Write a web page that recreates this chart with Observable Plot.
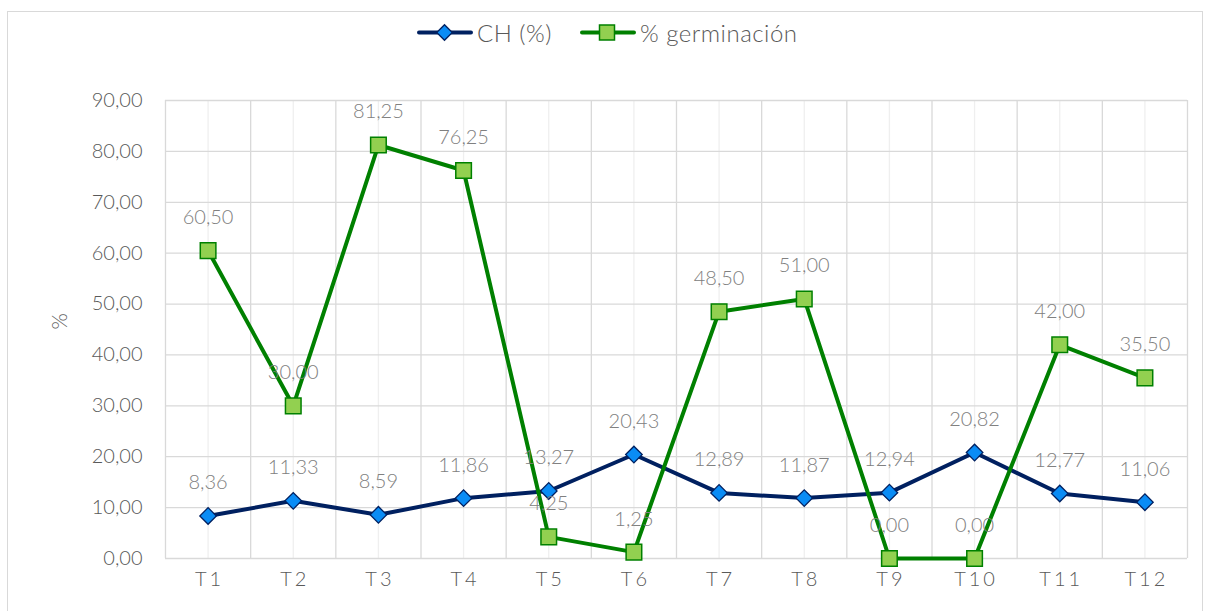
<!DOCTYPE html>
<html>
<head>
<meta charset="utf-8">
<script src="https://cdn.jsdelivr.net/npm/d3@7"></script>
<script src="https://cdn.jsdelivr.net/npm/@observablehq/plot@0.6"></script>
<style>
  body { margin: 0; background: #fff; font-family: Lato, "Noto Sans", sans-serif; }
  #frame { position: absolute; left: 7px; top: 11px; width: 1196px; height: 640px; border: 1px solid #d9d9d9; box-sizing: border-box; overflow: hidden; }
  #legend { position: absolute; top: 6px; left: 409px; display: flex; align-items: center; font-size: 24px; letter-spacing: 0.5px; font-weight: 300; color: #595959; white-space: nowrap; }
  #legend .item { display: flex; align-items: center; margin-right: 28px; }
  #legend svg { margin-right: 4px; }
  #chart { position: absolute; left: 0; top: 39px; }
  #chart svg text { font-weight: 300; }
</style>
</head>
<body>
<div id="frame">
  <div id="legend"></div>
  <div id="chart"></div>
</div>
<script>
const categories = ["T1","T2","T3","T4","T5","T6","T7","T8","T9","T10","T11","T12"];
const chValues = [8.36, 11.33, 8.59, 11.86, 13.27, 20.43, 12.89, 11.87, 12.94, 20.82, 12.77, 11.06];
const germValues = [60.50, 30.00, 81.25, 76.25, 4.25, 1.25, 48.50, 51.00, 0.00, 0.00, 42.00, 35.50];
const yTicks = [0, 10, 20, 30, 40, 50, 60, 70, 80, 90];
const seriesNames = ["CH (%)", "% germinación"];

const navy = "#002060", blueFill = "#0a8cf5";
const green = "#008000", greenFill = "#92d050";
const fmt = v => v.toFixed(2).replace(".", ",");

const idx = categories.map((c, i) => i + 1);
const ch = categories.map((c, i) => ({i: i + 1, v: chValues[i]}));
const germ = categories.map((c, i) => ({i: i + 1, v: germValues[i]}));
const bounds = d3.range(0, categories.length + 1).map(k => k + 0.5);

// Legend
const legend = document.getElementById("legend");
[[seriesNames[0], "diamond"], [seriesNames[1], "square"]].forEach(([name, sym]) => {
  const item = document.createElement("div");
  item.className = "item";
  const col = sym === "diamond" ? navy : green;
  const fill = sym === "diamond" ? blueFill : greenFill;
  const marker = sym === "diamond"
    ? `<rect x="22" y="6" width="11" height="11" transform="rotate(45 27.5 11.5)" fill="${fill}" stroke="${col}" stroke-width="1.3"/>`
    : `<rect x="19.5" y="4" width="15" height="15" fill="${fill}" stroke="${col}" stroke-width="1.5"/>`;
  item.innerHTML = `<svg width="56" height="23"><line x1="2" x2="54" y1="11.5" y2="11.5" stroke="${col}" stroke-width="4" stroke-linecap="round"/>${marker}</svg><span>${name}</span>`;
  legend.appendChild(item);
});

const chart = Plot.plot({
  width: 1194,
  height: 560,
  marginTop: 49,
  marginBottom: 53,
  marginLeft: 157,
  marginRight: 15,
  style: {fontFamily: "Lato, 'Noto Sans', sans-serif", background: "transparent"},
  x: {type: "linear", domain: [0.5, categories.length + 0.5]},
  y: {type: "linear", domain: [0, 90]},
  marks: [
    Plot.ruleX(idx, {y1: 0, y2: 90, stroke: "#efefef", strokeWidth: 1.3}),
    Plot.ruleY(yTicks, {stroke: "#d9d9d9", strokeWidth: 1.3}),
    Plot.ruleX(bounds, {y1: 0, y2: 90, stroke: "#d9d9d9", strokeWidth: 1.3}),
    Plot.axisY({ticks: yTicks, tickFormat: fmt, tickSize: 0, tickPadding: 23, fontSize: 20, fill: "#595959", label: null}),
    Plot.axisX({ticks: idx, tickFormat: i => categories[i - 1], tickSize: 0, tickPadding: 13, fontSize: 20, fill: "#595959", label: null}),
    Plot.text(["%"], {frameAnchor: "left", text: d => d, rotate: -90, dx: -105, fontSize: 21, fill: "#595959"}),
    Plot.line(ch, {x: "i", y: "v", stroke: navy, strokeWidth: 4}),
    Plot.dot(ch, {x: "i", y: "v", symbol: "square", rotate: 45, r: 6.6, fill: blueFill, stroke: navy, strokeWidth: 1.3}),
    Plot.line(germ, {x: "i", y: "v", stroke: green, strokeWidth: 4}),
    Plot.dot(germ, {x: "i", y: "v", symbol: "square", r: 8.8, fill: greenFill, stroke: green, strokeWidth: 1.5}),
    Plot.text(ch, {x: "i", y: "v", text: d => fmt(d.v), dy: -33, fontSize: 20, fill: "#808080"}),
    Plot.text(germ, {x: "i", y: "v", text: d => fmt(d.v), dy: -33, fontSize: 20, fill: "#808080"})
  ]
});
d3.select(chart).selectAll('[aria-label="x-axis tick label"] text')
  .style("letter-spacing", "3px").attr("dx", 1.5);
document.getElementById("chart").appendChild(chart);
</script>
</body>
</html>
